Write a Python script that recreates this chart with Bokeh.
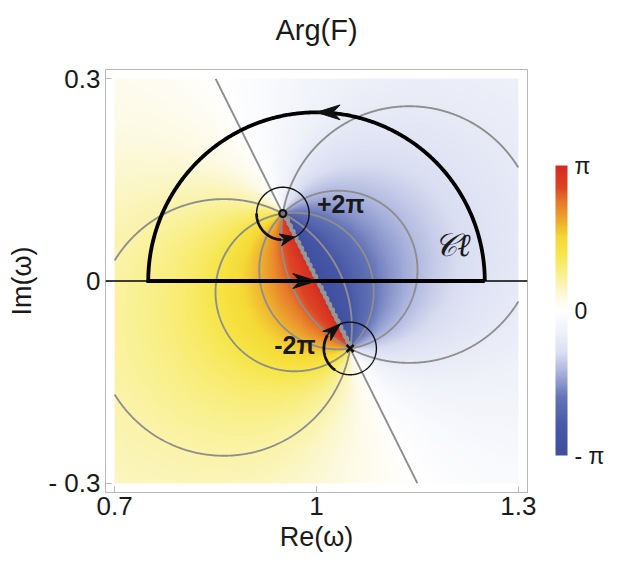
import numpy as np
from bokeh.plotting import figure
from bokeh.models import (LinearColorMapper, ColorBar, FixedTicker, Span, Label, Title)
from bokeh.embed import file_html
from bokeh.resources import INLINE

# ---------------- data ----------------
zero_re, zero_im = 0.95, 0.10          # zero of F  (winding +2pi)
pole_re, pole_im = 1.05, -0.10         # pole of F  (winding -2pi)
contour_levels = [np.pi / 5, 2 * np.pi / 5, 3 * np.pi / 5, 4 * np.pi / 5]
x_min, x_max = 0.7, 1.3
y_min, y_max = -0.3, 0.3
x_ticks = [0.7, 1.0, 1.3]
x_tick_labels = ["0.7", "1", "1.3"]
y_ticks = [-0.3, 0.0, 0.3]
y_tick_labels = ["- 0.3", "0", "0.3"]
cb_ticks = [-np.pi, 0.0, np.pi]
cb_tick_labels = ["- π", "0", "π"]
contour_center = 1.0      # closed contour Cl: half disc
contour_radius = 0.25
loop_radius = 0.039       # small loops around zero / pole
zero_loop_angles = (180.0, 266.0, 297.0)   # start, arc end, arrow tip (deg)
pole_loop_angles = (235.0, 150.0, 112.0)

FONT = "Liberation Sans"

# colour scale stops (value / pi, colour)
stops = [(-1.0, "#3f4fa0"), (-0.8, "#4858a7"), (-0.6, "#6474b7"), (-0.45, "#a0aad8"),
         (-0.3, "#d9ddf1"), (-0.15, "#eff1f9"), (0.0, "#ffffff"), (0.1, "#fcf9e0"),
         (0.25, "#f9f08e"), (0.4, "#f6e546"), (0.5, "#f5da37"), (0.62, "#eeab2e"),
         (0.75, "#e67a2a"), (0.85, "#dd4525"), (1.0, "#d52a22")]


def hex2rgb(h):
    return np.array([int(h[i:i + 2], 16) for i in (1, 3, 5)], float)


sv = np.array([s[0] for s in stops])
sc = np.array([hex2rgb(s[1]) for s in stops])
grid = np.linspace(-1, 1, 256)
palette = []
for g in grid:
    r, gg, b = (np.interp(g, sv, sc[:, k]) for k in range(3))
    palette.append("#%02x%02x%02x" % (int(round(r)), int(round(gg)), int(round(b))))

mapper = LinearColorMapper(palette=palette, low=-np.pi, high=np.pi)

# ---------------- field ----------------
N = 420
xs = np.linspace(x_min, x_max, N)
ys = np.linspace(y_min, y_max, N)
X, Y = np.meshgrid(xs, ys)
W = X + 1j * Y
z0 = zero_re + 1j * zero_im
p0 = pole_re + 1j * pole_im
ARG = np.angle((W - z0) / (W - p0))

# ---------------- figure ----------------
p = figure(width=630, height=564, x_range=(0.6865, 1.3135), y_range=(-0.3135, 0.3135),
           output_backend="svg", toolbar_location=None,
           min_border_left=105, min_border_right=103, min_border_top=69, min_border_bottom=72)
p.image(image=[ARG], x=x_min, y=y_min, dw=x_max - x_min, dh=y_max - y_min, color_mapper=mapper)

p.grid.visible = False
p.outline_line_color = "#b8b8b8"
p.background_fill_color = "white"

# spacer between frame and title, then the title itself (outermost)
p.add_layout(Title(text=" ", text_font_size="16px", standoff=0), "above")
p.title.text = "Arg(F)"
p.title.align = "center"
p.title.text_font = FONT
p.title.text_font_size = "29px"
p.title.text_font_style = "normal"
p.title.text_color = "#1a1a1a"
p.title.standoff = 10

for ax, ticks, labels in ((p.xaxis[0], x_ticks, x_tick_labels), (p.yaxis[0], y_ticks, y_tick_labels)):
    ax.ticker = FixedTicker(ticks=ticks)
    ax.major_label_overrides = {t: l for t, l in zip(ticks, labels)}
    ax.minor_tick_line_color = None
    ax.major_tick_in = 6
    ax.major_tick_out = 0
    ax.major_tick_line_color = "#b8b8b8"
    ax.axis_line_color = "#b8b8b8"
    ax.major_label_text_font = FONT
    ax.major_label_text_font_size = "26px"
    ax.major_label_text_color = "#1a1a1a"
    ax.axis_label_text_font = FONT
    ax.axis_label_text_font_size = "27px"
    ax.axis_label_text_font_style = "normal"
    ax.axis_label_text_color = "#1a1a1a"

p.xaxis.axis_label = "Re(ω)"
p.yaxis.axis_label = "Im(ω)"
p.xaxis.major_label_standoff = 4
p.xaxis.axis_label_standoff = 4
p.yaxis.major_label_standoff = 5
p.yaxis.axis_label_standoff = 8


def clip(x, y):
    x = np.array(x, float)
    y = np.array(y, float)
    m = (x < x_min) | (x > x_max) | (y < y_min) | (y > y_max)
    x[m] = np.nan
    y[m] = np.nan
    return x, y


# ---------------- phase contours (circles through zero and pole) ----------------
mid = (z0 + p0) / 2
dvec = p0 - z0
d = abs(dvec)
nvec = -1j * dvec / d          # unit normal
gray = "#8e8e8e"
phi = np.linspace(0, 2 * np.pi, 1441)
for lev in contour_levels:
    t = (d / 2) / np.tan(lev)
    c = mid + t * nvec
    R = d / (2 * np.sin(lev))
    cx, cy = clip(c.real + R * np.cos(phi), c.imag + R * np.sin(phi))
    p.line(cx, cy, line_color=gray, line_width=1.9)

# zero-phase straight line through zero and pole
s = np.linspace(-1.0, 1.0, 4001)
lx, ly = clip((mid + s * dvec / d).real, (mid + s * dvec / d).imag)
p.line(lx, ly, line_color=gray, line_width=1.9)

# branch cut (jagged contour at +-pi)
nst = 24
bx, by = [], []
for i in range(nst):
    a = z0 + dvec * i / nst + 0.004
    b = z0 + dvec * (i + 1) / nst + 0.004
    bx += [a.real, a.real, b.real]
    by += [a.imag, b.imag, b.imag]
p.line(bx, by, line_color="#979797", line_width=3.5)

# real axis
p.add_layout(Span(location=0, dimension="width", line_color="black", line_width=1.6))

# ---------------- contour Cl ----------------
th = np.linspace(0, np.pi, 400)
clx = list(contour_center + contour_radius * np.cos(th)) + [contour_center + contour_radius]
cly = list(contour_radius * np.sin(th)) + [0.0]
p.line(clx, cly, line_color="black", line_width=3.8, line_join="miter")


def head(tip, direction, length, half, notch=0.3):
    u = direction / abs(direction)
    n = 1j * u
    back = tip - u * length
    pts = [tip, back + n * half, tip - u * length * (1 - notch), back - n * half]
    return [q.real for q in pts], [q.imag for q in pts]


hx, hy = [], []
c0 = contour_center + 0j
# top arrow (moving left) and bottom arrow (moving right)
a1 = head(c0 + 1j * contour_radius, -1 + 0j, 0.035, 0.011)
a2 = head(c0, 1 + 0j, 0.035, 0.011)
hx += [a1[0], a2[0]]
hy += [a1[1], a2[1]]

# small loops
for ctr, (a_start, a_end, a_tip) in ((z0, zero_loop_angles), (p0, pole_loop_angles)):
    ang = np.linspace(0, 2 * np.pi, 361)
    p.line(ctr.real + loop_radius * np.cos(ang), ctr.imag + loop_radius * np.sin(ang),
           line_color="#111111", line_width=1.4)
    arc = np.radians(np.linspace(a_start, a_end, 80))
    p.line(ctr.real + loop_radius * np.cos(arc), ctr.imag + loop_radius * np.sin(arc),
           line_color="#111111", line_width=2.8)
    tip = ctr + loop_radius * np.exp(1j * np.radians(a_tip))
    base = ctr + loop_radius * np.exp(1j * np.radians(a_end))
    h = head(tip, tip - base, abs(tip - base) * 1.05, 0.009)
    hx.append(h[0])
    hy.append(h[1])

p.patches(hx, hy, fill_color="#111111", line_color="#111111", line_width=1)

# zero and pole markers
p.scatter([zero_re], [zero_im], marker="circle", size=7, fill_color="#777777",
          line_color="#111111", line_width=2.2)
p.scatter([pole_re], [pole_im], marker="x", size=10, line_color="#111111", line_width=2.6)

# annotations
for txt, x, y, font, style, size in (("+2π", 1.036, 0.114, FONT, "bold", "25px"),
                                     ("-2π", 0.968, -0.095, FONT, "bold", "25px"),
                                     ("𝒞ℓ", 1.202, 0.053, "DejaVu Serif", "italic", "32px")):
    p.add_layout(Label(x=x, y=y, text=txt, text_font=font, text_font_style=style,
                       text_font_size=size, text_align="center", text_baseline="middle",
                       text_color="#1a1a1a"))

# colour bar
cb = ColorBar(color_mapper=mapper, location=(450, 37), width=12, height=290, padding=0,
              ticker=FixedTicker(ticks=cb_ticks),
              major_label_overrides={t: l for t, l in zip(cb_ticks, cb_tick_labels)},
              major_tick_line_color=None, bar_line_color=None, border_line_color=None,
              background_fill_alpha=0, label_standoff=7,
              major_label_text_font=FONT, major_label_text_font_size="23px",
              major_label_text_color="#1a1a1a")
p.add_layout(cb, "center")

open("out.html", "w").write(file_html(p, INLINE))
